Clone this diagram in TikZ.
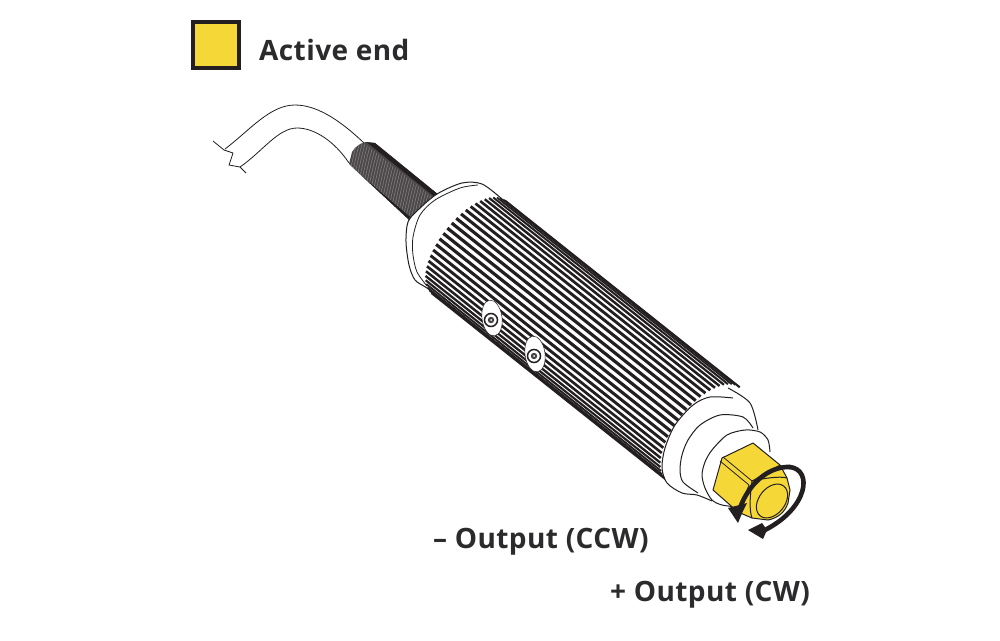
\documentclass[tikz,border=0pt]{standalone}
\usepackage{fontspec}
\setmainfont{Open Sans}[LetterSpace=1.5]
\definecolor{ink}{HTML}{231F20}
\definecolor{labelink}{HTML}{2B2A2C}
\definecolor{amber}{HTML}{F5D838}
\tikzset{
  px/.style={x=1pt,y=-1pt},
  outline/.style={draw=ink,line width=1pt,line join=round},
  hair/.style={draw=ink,line width=.8pt,line join=round},
  label/.style={font=\bfseries\fontsize{28}{30}\selectfont,text=labelink,anchor=base west,inner sep=0pt},
  flow/.style={draw=ink,line width=4.6pt,line cap=round},
}
\begin{document}
\begin{tikzpicture}[px]
\useasboundingbox (0,0) rectangle (1000,640);
\fill[white] (0,0) rectangle (1000,640);
% legend
\node[draw=ink,line width=4pt,fill=amber,minimum size=46pt,inner sep=0pt,anchor=center] (swatch) at (215.5,45) {};
\node[label] (legendtext) at (259,60) {Active end};
% cable
\draw[hair] (225,149) .. controls (250,130) and (270,105) .. (295,105) .. controls (320,105) and (345,125) .. (364,143);
\draw[hair] (240,167) .. controls (262,152) and (278,128) .. (297,128) .. controls (315,128) and (335,142) .. (349,163);
\draw[hair] (213,141) -- (224,150) -- (233,153) -- (229,165) -- (240,167) -- (246,173);
% strain relief
\fill[ink!82] (349,164) -- (352,152) .. controls (355,147) and (360,143) .. (366,142) -- (375,143) -- (445,200) -- (420,230) -- cycle;
\begin{scope}
\clip (349,164) -- (352,152) .. controls (355,147) and (360,143) .. (366,142) -- (375,143) -- (445,200) -- (420,230) -- cycle;
\foreach \k in {0,3,...,100}
  \draw[white!40!ink,line width=.7pt] (358+\k*0.78,138+\k*0.62) .. controls (354+\k*0.78,152+\k*0.62) and (352+\k*0.78,165+\k*0.62) .. (348+\k*.78,178+\k*.62);
\draw[ink,line width=4pt] (347,166) -- (420,228);
\draw[ink,line width=5pt] (368,140) -- (445,202);
\end{scope}
% cap and body white
\fill[white] plot[smooth] coordinates {(502,199) (482,184) (462,183) (437,194) (418,210) (408,222) (406,242) (409,265) (415,280) (427,288) (440,298)} -- (660,477) -- (760,400) -- cycle;
\draw[outline] plot[smooth] coordinates {(502,199) (482,184) (462,183) (437,194) (418,210) (408,222) (406,242) (409,265) (415,280) (427,288) (440,298)};
\draw[hair] plot[smooth] coordinates {(478,185) (460,188) (435,200) (420,215) (413,237) (413,255) (417,272) (427,286)};
% knurling
\begin{scope}[shift={(701,428)},rotate=-38.5]
\def\Rk{59}\def\Vc{3}\def\Uz{-295}\def\Uo{5}\def\Bk{28}
\foreach \t in {-86,-79.5,...,86}{
  \pgfmathsetmacro{\v}{\Vc+\Rk*sin(\t)}
  \pgfmathsetmacro{\off}{\Bk*cos(\t)}
  \pgfmathsetmacro{\w}{1.2+2.0*cos(\t)}
  \draw[ink,line width=\w pt] (\Uz-\off,\v) -- (\Uo-\off,\v);
}
\draw[ink,line width=2pt] (\Uz,\Vc-\Rk) -- (\Uo,\Vc-\Rk);
\draw[ink,line width=2.4pt] (\Uz,\Vc+\Rk) -- (\Uo,\Vc+\Rk);
\end{scope}
% screws
\foreach \sx/\sy/\n in {492/318/a,535/354/b}{
  \draw[fill=white,draw=ink,line width=.5pt,rotate around={8:(\sx,\sy)}] (\sx,\sy) ellipse [x radius=10,y radius=18];
  \draw[fill=white,draw=ink,line width=1.5pt] (\sx-1,\sy+2) circle (6.5);
  \fill[ink!85] (\sx-1,\sy+2) circle (3.2);
  \fill[white] (\sx-1,\sy+2) circle (1);
}
% end steps
\fill[white] plot[smooth] coordinates {(728,388) (750,403) (759,430) (772,445) (776,470) (750,510) (722,506) (697,495) (667,483) (665,448) (693,405)} -- cycle;
\draw[outline] plot[smooth] coordinates {(728,388) (750,403) (758,430)};
\draw[outline] plot[smooth] coordinates {(733,398) (710,397) (693,405) (675,425) (665,448) (662,468) (667,483) (682,493) (697,495) (712,501)};
\draw[outline] plot[smooth] coordinates {(753,428) (743,417) (720,415) (700,425) (688,440) (682,455) (680,470) (683,482) (698,493)};
\draw[outline] plot[smooth] coordinates {(770,452) (768,440) (760,432) (745,430) (727,435) (712,450) (705,462) (702,475) (705,488) (712,500) (722,505) (738,507)};
% hex head
\draw[outline,fill=amber] (722,458) -- (753,443) -- (780,465) -- (787,478) -- (790,490) -- (788,503) .. controls (785,512) and (778,518) .. (768,520) -- (752,518) -- (738,512) -- (713,490) -- cycle;
\draw[hair] (720,461) -- (749,485);
\draw[hair] (723,457) -- (752,481) -- (780,465);
\draw[hair] (749,485) -- (738,512);
\draw[outline] (752,481) .. controls (765,478) and (780,476) .. (787,478);
\draw[outline] (752,481) .. controls (750,495) and (749,510) .. (752,518);
\draw[outline,rotate around={-38.5:(772,501)}] (772,501) ellipse [x radius=13,y radius=19];
% rotation arrows
\coordinate (apex) at (790,467);
\draw[flow] (740,508) .. controls (748,485) and (768,466) .. (apex);
\draw[flow] (apex) .. controls (813,470) and (808,508) .. (765,530);
\fill[ink] (728,508) -- (747,503) -- (743,511) -- (738,523) -- cycle;
\fill[ink] (748,530) -- (762,523) -- (767,530) -- (763,539) -- cycle;
% labels
\node[label] (minus) at (433,548) {– Output (CCW)};
\node[label] (plus) at (610,601) {+ Output (CW)};
\end{tikzpicture}
\end{document}
